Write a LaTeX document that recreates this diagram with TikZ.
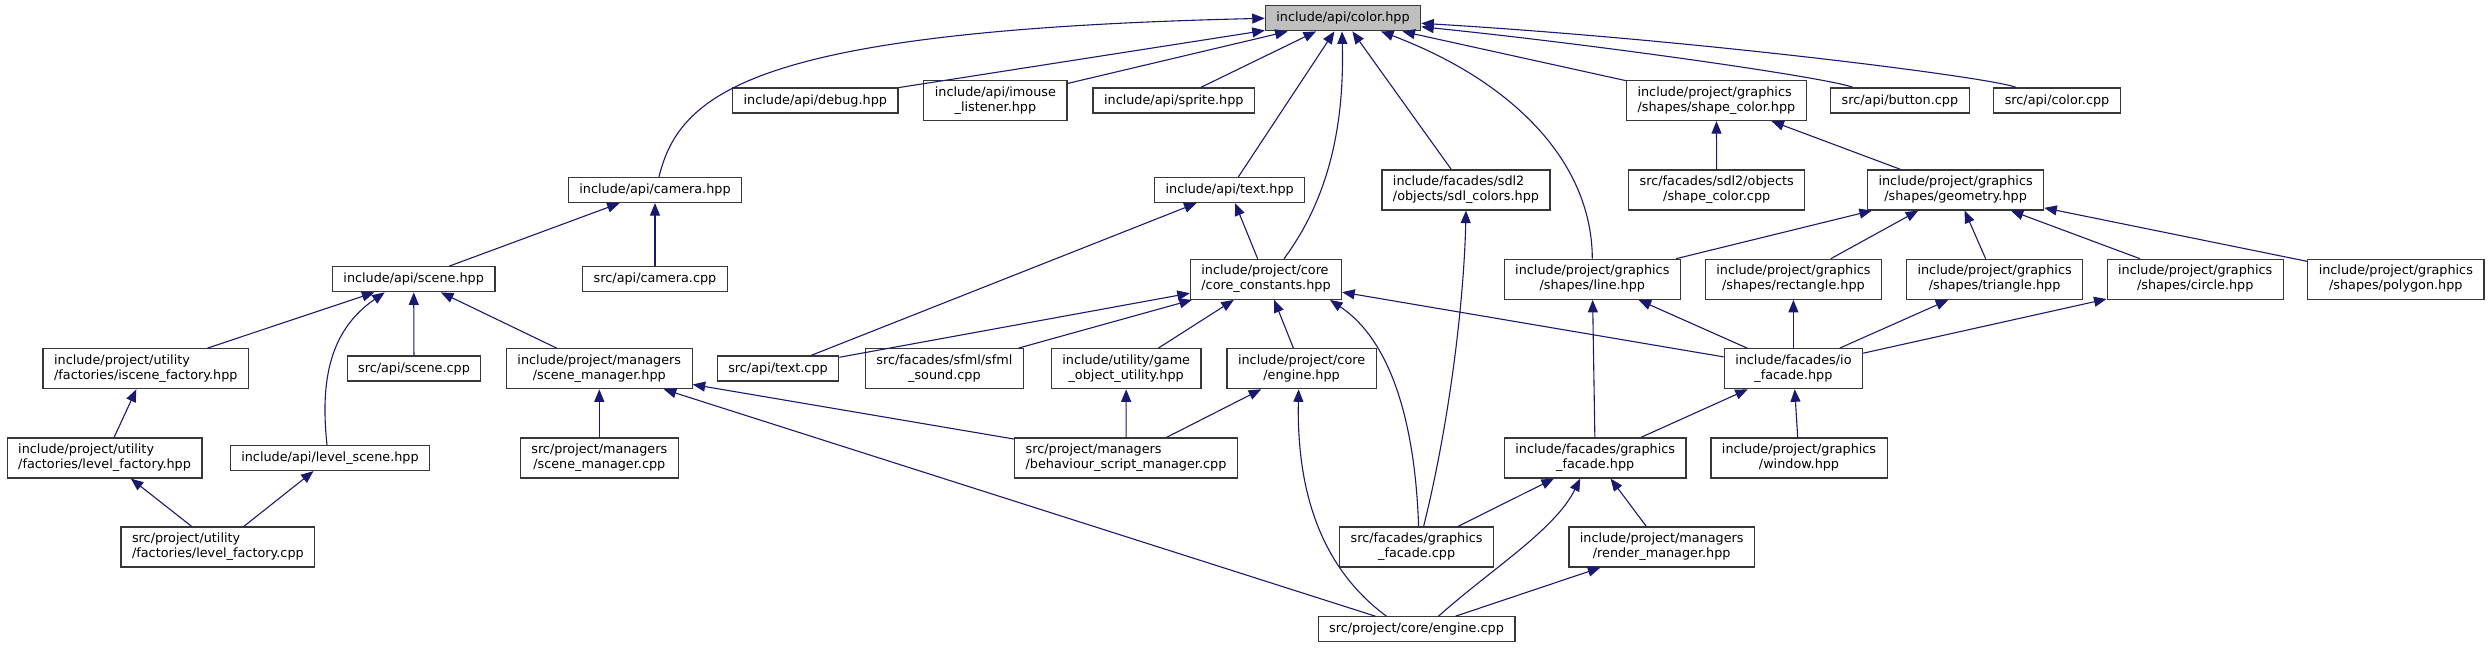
\documentclass[tikz,border=0pt]{standalone}
\usepackage{fontspec}
\setmainfont{DejaVu Sans}
\usepackage{tikz}
\usetikzlibrary{arrows.meta}
\definecolor{edgenavy}{RGB}{25,25,112}
\definecolor{rootgrey}{RGB}{191,191,191}
\definecolor{boxline}{RGB}{55,55,55}
\newcommand{\twoline}[2]{\begin{tabular}{@{}l@{}}#1\\\multicolumn{1}{@{}c@{}}{#2}\end{tabular}}
\tikzset{
  filebox/.style={draw=boxline,fill=white,line width=1.2pt,font=\fontsize{12.8pt}{15pt}\selectfont,inner xsep=11pt,inner ysep=0pt,minimum height=25pt},
  twobox/.style={filebox,minimum height=40pt},
  rootbox/.style={filebox,fill=rootgrey},
  dep/.style={-{Triangle[length=12.5pt,width=10pt]},line width=1.1pt,draw=edgenavy},
}
\begin{document}
\begin{tikzpicture}[x=1pt,y=-1pt]
  \useasboundingbox (0,0) rectangle (2492,648);
  % row 0
  \node[rootbox] (color) at (1343,18.3) {include/api/color.hpp};
  % row 1
  \node[filebox] (debug) at (815.3,100.5) {include/api/debug.hpp};
  \node[twobox] (imouse) at (995.4,100.5) {\twoline{include/api/imouse}{\_listener.hpp}};
  \node[filebox] (sprite) at (1173.8,100.5) {include/api/sprite.hpp};
  \node[twobox] (shapecolor) at (1716.4,100.5) {\twoline{include/project/graphics}{/shapes/shape\_color.hpp}};
  \node[filebox] (button) at (1899.9,100.5) {src/api/button.cpp};
  \node[filebox] (colorcpp) at (2057,100.5) {src/api/color.cpp};
  % row 2
  \node[filebox] (camera) at (655,190) {include/api/camera.hpp};
  \node[filebox] (text) at (1229.7,190) {include/api/text.hpp};
  \node[twobox] (sdlcolors) at (1466,190) {\twoline{include/facades/sdl2}{/objects/sdl\_colors.hpp}};
  \node[twobox] (shapecolorcpp) at (1716.7,190) {\twoline{src/facades/sdl2/objects}{/shape\_color.cpp}};
  \node[twobox] (geometry) at (1955.6,190) {\twoline{include/project/graphics}{/shapes/geometry.hpp}};
  % row 3
  \node[filebox] (scene) at (413.7,279.3) {include/api/scene.hpp};
  \node[filebox] (cameracpp) at (655,279.3) {src/api/camera.cpp};
  \node[twobox] (coreconst) at (1266,279.3) {\twoline{include/project/core}{/core\_constants.hpp}};
  \node[twobox] (line) at (1592.3,279.3) {\twoline{include/project/graphics}{/shapes/line.hpp}};
  \node[twobox] (rectangle) at (1793.4,279.3) {\twoline{include/project/graphics}{/shapes/rectangle.hpp}};
  \node[twobox] (triangle) at (1994.6,279.3) {\twoline{include/project/graphics}{/shapes/triangle.hpp}};
  \node[twobox] (circle) at (2195.2,279.3) {\twoline{include/project/graphics}{/shapes/circle.hpp}};
  \node[twobox] (polygon) at (2395.8,279.3) {\twoline{include/project/graphics}{/shapes/polygon.hpp}};
  % row 4
  \node[twobox] (iscenefac) at (145.8,368.7) {\twoline{include/project/utility}{/factories/iscene\_factory.hpp}};
  \node[filebox] (scenecpp) at (414,368.5) {src/api/scene.cpp};
  \node[twobox] (scenemgr) at (599.3,368.7) {\twoline{include/project/managers}{/scene\_manager.hpp}};
  \node[filebox] (textcpp) at (778,368.5) {src/api/text.cpp};
  \node[twobox] (sfml) at (944.4,368.7) {\twoline{src/facades/sfml/sfml}{\_sound.cpp}};
  \node[twobox] (gameobj) at (1126.2,368.7) {\twoline{include/utility/game}{\_object\_utility.hpp}};
  \node[twobox] (enginehpp) at (1301.6,368.7) {\twoline{include/project/core}{/engine.hpp}};
  \node[twobox] (iofacade) at (1793.4,368.7) {\twoline{include/facades/io}{\_facade.hpp}};
  % row 5
  \node[twobox] (levelfachpp) at (104.6,458) {\twoline{include/project/utility}{/factories/level\_factory.hpp}};
  \node[filebox] (levelscene) at (330,458) {include/api/level\_scene.hpp};
  \node[twobox] (scenemgrcpp) at (599.3,458) {\twoline{src/project/managers}{/scene\_manager.cpp}};
  \node[twobox] (behaviour) at (1126,458) {\twoline{src/project/managers}{/behaviour\_script\_manager.cpp}};
  \node[twobox] (gfxfacadehpp) at (1595.2,458) {\twoline{include/facades/graphics}{\_facade.hpp}};
  \node[twobox] (window) at (1799,458) {\twoline{include/project/graphics}{/window.hpp}};
  % row 6
  \node[twobox] (levelfaccpp) at (217.9,547) {\twoline{src/project/utility}{/factories/level\_factory.cpp}};
  \node[twobox] (gfxfacadecpp) at (1416.6,547) {\twoline{src/facades/graphics}{\_facade.cpp}};
  \node[twobox] (rendermgr) at (1661.7,547) {\twoline{include/project/managers}{/render\_manager.hpp}};
  % row 7
  \node[filebox] (enginecpp) at (1416.5,629.3) {src/project/core/engine.cpp};
  % includes of color.hpp
  \draw[dep] ([xshift=4pt]camera.north) .. controls (680,90) and (760,30) .. (color.west);
  \draw[dep] (debug) -- (color);
  \draw[dep] (imouse) -- (color);
  \draw[dep] (sprite) -- (color);
  \draw[dep] (text) -- (color);
  \draw[dep] ([xshift=18pt]coreconst.north) .. controls (1335,190) and (1344,110) .. ([xshift=-1pt]color.south);
  \draw[dep] (sdlcolors) -- (color);
  \draw[dep] (line.north) .. controls (1592,160) and (1510,80) .. ([xshift=38pt]color.south);
  \draw[dep] (shapecolor) -- (color);
  \draw[dep] ([xshift=-47pt]button.north) .. controls (1830,78) and (1600,45) .. ([yshift=-8.5pt]color.east);
  \draw[dep] ([xshift=-41pt]colorcpp.north) .. controls (1995,78) and (1700,40) .. ([yshift=-5pt]color.east);
  % camera and scene
  \draw[dep] (scene) -- (camera);
  \draw[dep] (cameracpp) -- (camera);
  \draw[dep] (iscenefac) -- (scene);
  \draw[dep] (scenecpp) -- (scene);
  \draw[dep] (scenemgr) -- (scene);
  \draw[dep] ([xshift=-3pt]levelscene.north) .. controls (320,380) and (330,330) .. ([xshift=-29pt]scene.south);
  \draw[dep] (levelfachpp) -- (iscenefac);
  \draw[dep] (levelfaccpp) -- (levelfachpp);
  \draw[dep] (levelfaccpp) -- (levelscene);
  \draw[dep] (scenemgrcpp) -- (scenemgr);
  \draw[dep] (behaviour) -- (scenemgr);
  \draw[dep] (enginecpp) -- (scenemgr);
  % text and core constants
  \draw[dep] (textcpp) -- (text);
  \draw[dep] (coreconst) -- (text);
  \draw[dep] (textcpp) -- (coreconst);
  \draw[dep] (sfml) -- (coreconst);
  \draw[dep] (gameobj) -- (coreconst);
  \draw[dep] (enginehpp) -- (coreconst);
  \draw[dep] ([xshift=2pt]gfxfacadecpp.north) .. controls (1415,420) and (1390,340) .. ([xshift=64pt]coreconst.south);
  \draw[dep] (iofacade) -- (coreconst);
  \draw[dep] (behaviour) -- (gameobj);
  \draw[dep] (behaviour) -- (enginehpp);
  \draw[dep] ([xshift=-30pt]enginecpp.north) .. controls (1310,560) and (1297,470) .. ([xshift=-3pt]enginehpp.south);
  \draw[dep] ([xshift=7pt]gfxfacadecpp.north) .. controls (1450,420) and (1464,300) .. (sdlcolors.south);
  % shapes
  \draw[dep] (shapecolorcpp) -- (shapecolor);
  \draw[dep] (geometry) -- (shapecolor);
  \draw[dep] (line) -- (geometry);
  \draw[dep] (rectangle) -- (geometry);
  \draw[dep] (triangle) -- (geometry);
  \draw[dep] (circle) -- (geometry);
  \draw[dep] (polygon) -- (geometry);
  \draw[dep] (gfxfacadehpp) -- (line);
  \draw[dep] (iofacade) -- (line);
  \draw[dep] (iofacade) -- (rectangle);
  \draw[dep] (iofacade) -- (triangle);
  \draw[dep] (iofacade) -- (circle);
  % facades
  \draw[dep] (gfxfacadehpp) -- (iofacade);
  \draw[dep] (window) -- (iofacade);
  \draw[dep] (gfxfacadecpp) -- (gfxfacadehpp);
  \draw[dep] ([xshift=22pt]enginecpp.north) .. controls (1490,570) and (1555,530) .. ([xshift=-15pt]gfxfacadehpp.south);
  \draw[dep] (rendermgr) -- (gfxfacadehpp);
  \draw[dep] (enginecpp) -- (rendermgr);
\end{tikzpicture}
\end{document}
